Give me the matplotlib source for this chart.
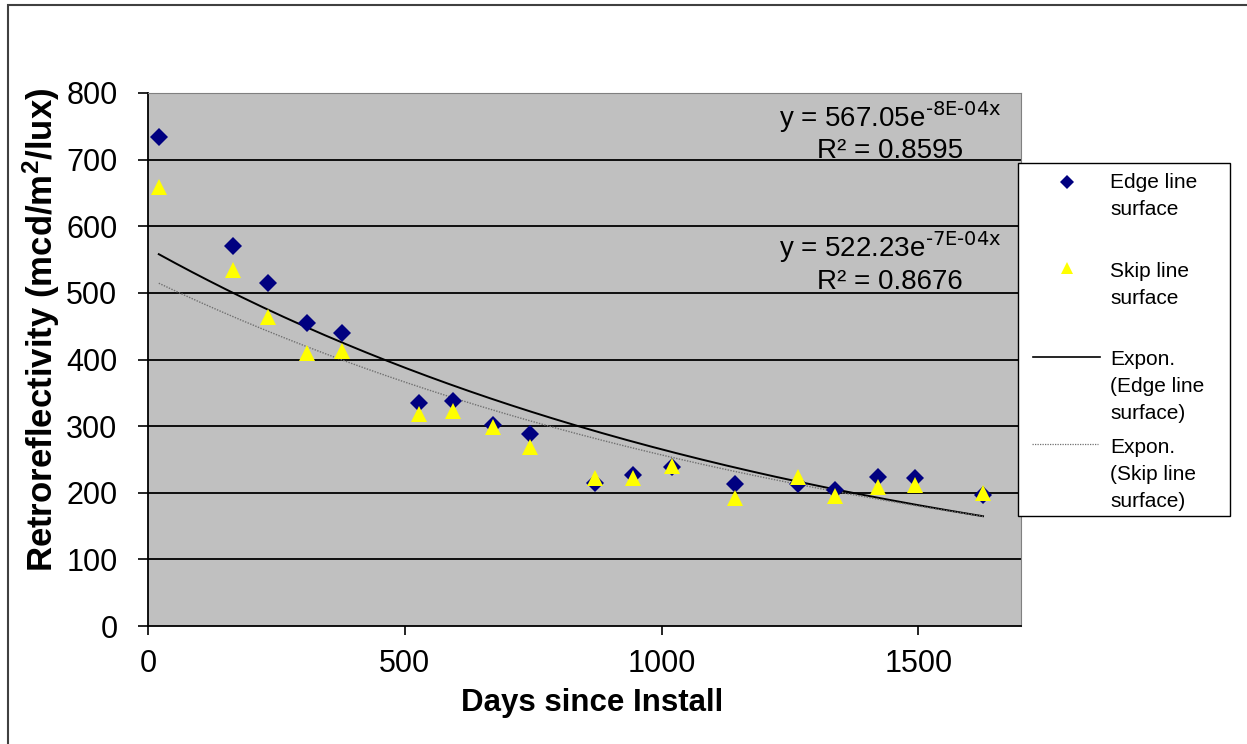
import numpy as np
import matplotlib
matplotlib.use("Agg")
import matplotlib.pyplot as plt
from matplotlib.patches import Rectangle
from matplotlib.lines import Line2D

plt.rcParams['font.family'] = ['Liberation Sans', 'DejaVu Sans']
plt.rcParams['mathtext.default'] = 'regular'

# data
days = [21, 166, 234, 310, 378, 528, 594, 672, 744, 870, 944, 1020, 1143, 1266, 1338, 1422, 1494, 1626]
edge_line = [734, 570, 515, 455, 440, 335, 338, 302, 288, 215, 226, 238, 213, 213, 204, 224, 222, 197]
skip_line = [659, 534, 464, 410, 413, 318, 323, 299, 269, 222, 222, 240, 192, 224, 195, 209, 212, 200]

# exponential trendlines (coefficient from label, rate)
edge_a, edge_rate = 567.05, -7.6e-4
skip_a, skip_rate = 522.23, -7.1e-4
edge_eq = r'y = 567.05e$^{\text{-8E-04x}}$'
edge_r2 = 'R² = 0.8595'
skip_eq = r'y = 522.23e$^{\text{-7E-04x}}$'
skip_r2 = 'R² = 0.8676'

W, H = 1247, 744


def fx(x):
    return x / W


def fy(y):
    return 1 - y / H


fig = plt.figure(figsize=(W / 100, H / 100), dpi=100)
fig.patch.set_facecolor('white')

# chart area border (cut off at right and bottom)
fig.patches.append(Rectangle((fx(8), fy(760)), fx(1300), fy(5) - fy(760),
                             transform=fig.transFigure, fill=False,
                             edgecolor='#404040', linewidth=1.5))

ax = fig.add_axes([fx(148), fy(626), fx(1021 - 148), (626 - 93) / H])
ax.set_facecolor('#C0C0C0')
ax.set_xlim(0, 1700)
ax.set_ylim(0, 800)
ax.set_xticks([0, 500, 1000, 1500])
ax.set_yticks(range(0, 801, 100))
for y in range(100, 800, 100):
    ax.axhline(y, color='black', linewidth=1.3, zorder=1)
ax.spines['left'].set_color('black')
ax.spines['bottom'].set_color('black')
ax.spines['left'].set_linewidth(1.3)
ax.spines['bottom'].set_linewidth(1.3)
ax.spines['top'].set_color('#808080')
ax.spines['right'].set_color('#808080')
ax.tick_params(axis='y', direction='out', length=7, width=1.2, pad=15, labelsize=22)
ax.tick_params(axis='x', direction='out', length=6.5, width=1.2, pad=10, labelsize=22)

xs = np.linspace(days[0], days[-1], 200)
ax.plot(xs, edge_a * np.exp(edge_rate * xs), color='black', linewidth=1.4, zorder=3)
ax.plot(xs, skip_a * np.exp(skip_rate * xs), color='#707070', linewidth=1.0,
        linestyle=(0, (1, 1)), zorder=3)

ax.plot(days, edge_line, linestyle='none', marker='D', markersize=9.5,
        color='#000080', markeredgewidth=0, zorder=4)
ax.plot(days, skip_line, linestyle='none', marker='^', markersize=12,
        color='#FFFF00', markeredgewidth=0, zorder=5)

# trendline equations
fig.text(fx(890), fy(127), edge_eq, ha='center', va='baseline', fontsize=20)
fig.text(fx(890), fy(158), edge_r2, ha='center', va='baseline', fontsize=20)
fig.text(fx(890), fy(257), skip_eq, ha='center', va='baseline', fontsize=20)
fig.text(fx(890), fy(289), skip_r2, ha='center', va='baseline', fontsize=20)

# axis titles
fig.text(fx(592), fy(703), 'Days since Install', ha='center', va='center',
         fontsize=22.5, fontweight='bold')
fig.text(fx(41), fy(330), 'Retroreflectivity (mcd/m$^2$/lux)', ha='center',
         va='center', rotation=90, fontsize=25, fontweight='bold')

# legend box
fig.patches.append(Rectangle((fx(1018), fy(516)), fx(1230 - 1018), (516 - 163) / H,
                             transform=fig.transFigure, facecolor='white',
                             edgecolor='black', linewidth=1.0, zorder=5))
fig.lines.append(Line2D([fx(1067)], [fy(182)], transform=fig.transFigure,
                        marker='D', markersize=7, color='#000080',
                        markeredgewidth=0, linestyle='none', zorder=6))
fig.lines.append(Line2D([fx(1067)], [fy(268)], transform=fig.transFigure,
                        marker='^', markersize=9, color='#FFFF00',
                        markeredgewidth=0, linestyle='none', zorder=6))
fig.lines.append(Line2D([fx(1033), fx(1100)], [fy(357), fy(357)],
                        transform=fig.transFigure, color='black',
                        linewidth=1.2, zorder=6))
fig.lines.append(Line2D([fx(1032), fx(1098)], [fy(444), fy(444)],
                        transform=fig.transFigure, color='#707070',
                        linewidth=0.9, linestyle=(0, (1, 1)), zorder=6))

legend_lines = [
    ('Edge line', 188), ('surface', 215),
    ('Skip line', 277), ('surface', 304),
    ('Expon.', 365), ('(Edge line', 392), ('surface)', 419),
    ('Expon.', 453), ('(Skip line', 480), ('surface)', 507),
]
for txt, yb in legend_lines:
    fig.text(fx(1110), fy(yb), txt, ha='left', va='baseline', fontsize=15, zorder=7)

fig.savefig('out.png', dpi=100)
